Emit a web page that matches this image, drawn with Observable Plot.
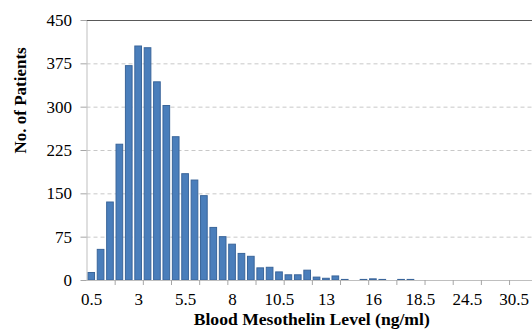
<!DOCTYPE html>
<html>
<head>
<meta charset="utf-8">
<script src="https://cdn.jsdelivr.net/npm/d3@7"></script>
<script src="https://cdn.jsdelivr.net/npm/@observablehq/plot@0.6"></script>
<style>
  html, body { margin: 0; padding: 0; background: #fff; }
  svg text { font-family: "Liberation Serif", "Times New Roman", serif !important; font-variant-numeric: normal !important; }
</style>
</head>
<body>
<div id="chart"></div>
<script>
// Categories (mesothelin level bins, ng/ml); only every 5th is labelled on the axis
const categories = [
  "0.5","1","1.5","2","2.5","3","3.5","4","4.5","5",
  "5.5","6","6.5","7","7.5","8","8.5","9","9.5","10",
  "10.5","11","11.5","12","12.5","13","13.5","14","14.5","15",
  "16","16.5","17","17.5","18","18.5","19.5","20.5","21.5","23",
  "24.5","25.5","26.5","28","29.5","30.5","31.5","33"
];
// Number of patients per bin
const patients = [
  13, 53, 135, 235, 371, 405, 402, 343, 302, 248,
  184, 173, 146, 91, 75, 62, 46, 41, 21, 22,
  14, 9, 9, 17, 5, 3, 7, 1, 0, 1,
  2, 1, 0, 1, 1, 0, 0, 0, 0, 0,
  0, 0, 0, 0, 0, 0, 0, 0
];
const yTicks = [0, 75, 150, 225, 300, 375, 450];
const gridTicks = [75, 150, 225, 300, 375];
const xLabelTicks = categories.filter((d, i) => i % 5 === 0);
const xMarkTicks = categories.filter((d, i) => i > 0 && i % 3 === 0);
const xTitle = "Blood Mesothelin Level (ng/ml)";
const yTitle = "No. of Patients";

const data = categories.map((c, i) => ({cat: c, n: patients[i]}));

const xStart = 86.5, step = 9.39;
const serif = "Liberation Serif";

const chart = Plot.plot({
  width: 532,
  height: 329,
  marginTop: 20,
  marginBottom: 49,
  marginLeft: 86.5,
  marginRight: 0,
  style: {fontFamily: serif, fontSize: "17px", color: "#000", background: "#fff"},
  x: {type: "band", domain: categories, range: [xStart, xStart + step * categories.length], round: false, paddingInner: 0.29, paddingOuter: 0.145},
  y: {domain: [0, 450]},
  marks: [
    Plot.gridY(gridTicks, {stroke: "#c8c8c8", strokeOpacity: 1, strokeDasharray: "4,3"}),
    Plot.barY(data, {x: "cat", y: "n", fill: "#4a7ebb", stroke: "#3a659a", strokeWidth: 1}),
    Plot.frame({anchor: "left", stroke: "#bfbfbf"}),
    Plot.frame({anchor: "bottom", stroke: "#bfbfbf"}),
    Plot.frame({anchor: "top", stroke: "#595959"}),
    Plot.axisY({ticks: yTicks, tickSize: 6, tickPadding: 9, label: null, stroke: "#a6a6a6", fill: "#000", fontSize: 17, fontFamily: serif}),
    Plot.axisX({ticks: xLabelTicks, tickSize: 0, tickPadding: 12, label: null, tickFormat: d => d, fill: "#000", fontSize: 17, fontFamily: serif}),
    Plot.axisX({ticks: xMarkTicks, tickSize: 5, label: null, tickFormat: () => "", dx: -step / 2, stroke: "#a6a6a6"}),
    Plot.text([yTitle], {frameAnchor: "left", rotate: -90, dx: -66, dy: 3, fontWeight: "bold", fontSize: 17, fontFamily: serif, fill: "#000"}),
    Plot.text([xTitle], {frameAnchor: "bottom", dy: 44, dx: 2, fontWeight: "bold", fontSize: 17.6, fontFamily: serif, fill: "#000"})
  ]
});
document.getElementById("chart").appendChild(chart);
</script>
</body>
</html>
